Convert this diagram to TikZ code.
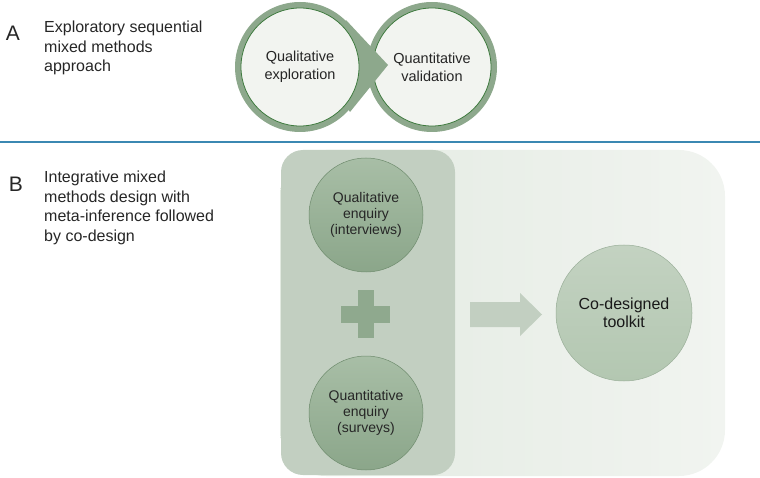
\documentclass[tikz,border=0pt]{standalone}
\usepackage{fontspec}
\setmainfont{Liberation Sans}
\usepackage{xcolor}
\usepackage{tikz}
\usetikzlibrary{positioning,calc}

\definecolor{ringgreen}{HTML}{8DA88C}
\definecolor{edgegreen}{HTML}{3E7A3E}
\definecolor{paleinner}{HTML}{F2F4F0}
\definecolor{sepblue}{HTML}{3B88B2}
\definecolor{panelleft}{HTML}{E2EAE1}
\definecolor{panelright}{HTML}{F1F4F0}
\definecolor{colfill}{HTML}{C2CFC1}
\definecolor{enqtop}{HTML}{A8BEA6}
\definecolor{enqbot}{HTML}{8BA68A}
\definecolor{enqedge}{HTML}{6F8C6E}
\definecolor{kittop}{HTML}{C3D2C1}
\definecolor{kitbot}{HTML}{B3C7B1}
\definecolor{plusfill}{HTML}{8FA98E}

\begin{document}
\begin{tikzpicture}[
  x=1pt, y=-1pt,
  font=\fontsize{16}{19.5}\selectfont,
  letter/.style={font=\fontsize{21}{24}\selectfont, text=black!85},
  caption/.style={anchor=north west, align=left, text=black!85, inner sep=0pt},
  bubble/.style={circle, draw=edgegreen, line width=0.8pt, fill=paleinner, minimum size=118pt, align=center, font=\fontsize{14.5}{18}\selectfont, text=black!85},
  enq/.style={circle, draw=enqedge, line width=0.5pt, top color=enqtop, bottom color=enqbot, minimum size=114pt, align=center, font=\fontsize{14}{16}\selectfont, text=black!85},
  kit/.style={circle, draw=enqedge!70, line width=0.5pt, top color=kittop, bottom color=kitbot, minimum size=136pt, align=center, font=\fontsize{16}{18.5}\selectfont, text=black!90},
]
\useasboundingbox (0,0) rectangle (760,478);

% Part A: exploratory sequential
\node[letter] (la) at (13,33) {A};
\node[caption] (capa) at (44,21) {Exploratory sequential\\mixed methods\\approach};

% second circle first, the pointer of the first one lies on it
\fill[ringgreen] (432,67) circle (65);
\node[bubble] (valid) at (432,67) {Quantitative\\validation};

\fill[ringgreen] (300,67) circle (65);
\fill[ringgreen] (346,20) -- (388,65) -- (350,112) -- (320,67) -- cycle;
\node[bubble] (explore) at (300,67) {Qualitative\\exploration};

% separator
\draw[sepblue, line width=1.2pt] (0,142) -- (760,142);

% Part B: integrative design
\node[letter] (lb) at (16,184) {B};
\node[caption] (capb) at (44,171) {Integrative mixed\\methods design with\\meta-inference followed\\by co-design};

% panels
\shade[left color=panelleft, right color=panelright, rounded corners=46pt] (280,150) rectangle (725,476);
\fill[colfill, rounded corners=22pt] (281,150) rectangle (455,475);

% inputs
\node[enq] (qualenq) at (366,215) {Qualitative\\enquiry\\(interviews)};
\node[enq] (quantenq) at (366,413) {Quantitative\\enquiry\\(surveys)};

% plus sign
\fill[plusfill] (341,306) rectangle (390,323);
\fill[plusfill] (358,290) rectangle (374,338);

% arrow to the output
\fill[colfill] (470,302) -- (520,302) -- (520,293) -- (542,314.5) -- (520,336) -- (520,327) -- (470,327) -- cycle;

% output
\node[kit] (toolkit) at (624,313) {Co-designed\\toolkit};

\end{tikzpicture}
\end{document}
